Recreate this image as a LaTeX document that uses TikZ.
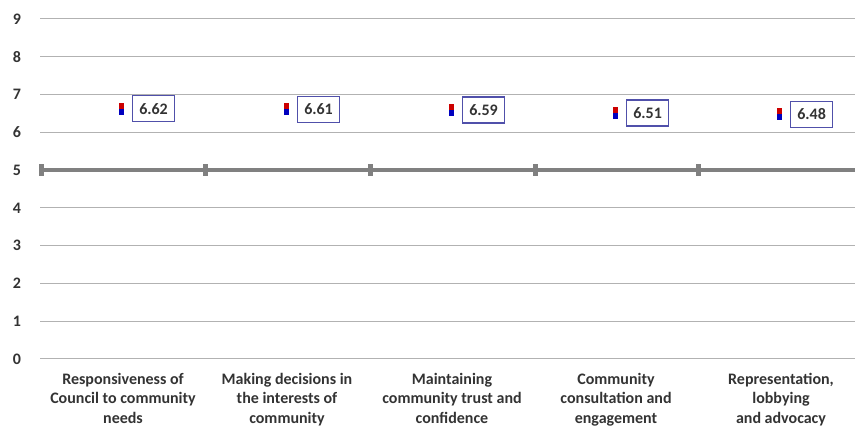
\documentclass[tikz,border=0pt]{standalone}
\usepackage{fontspec}
\setmainfont{Carlito}
\begin{document}
\begin{tikzpicture}[x=1pt,y=1pt,
  grid/.style={draw=black!30,line width=1pt},
  axislab/.style={font=\bfseries\fontsize{16}{18}\selectfont,text=black!80,anchor=center},
  catlab/.style={font=\bfseries\fontsize{16}{19.5}\selectfont,text=black!80,align=center,anchor=north,inner sep=0pt},
  valbox/.style={draw={rgb,255:red,80;green,80;blue,170},line width=1.1pt,minimum width=42pt,minimum height=26pt,inner sep=0pt,font=\bfseries\fontsize{16}{18}\selectfont,text=black!80,anchor=west},
  tickmk/.style={fill=black!50,minimum width=5pt,minimum height=12pt,inner sep=0pt}
]
\useasboundingbox (0,0) rectangle (855,430);
\def\ys{37.78}
% gridlines and axis labels
\foreach \v in {0,1,2,3,4,6,7,8,9}{
  \coordinate (gl\v) at (40,71+\v*\ys);
  \coordinate (gr\v) at (855,71+\v*\ys);
  \draw[grid] (gl\v) -- (gr\v);
}
\foreach \v in {0,...,9}{
  \node[axislab] (y\v) at (17,71+\v*\ys) {\v};
}
% thick line at 5
\coordinate (fl) at (40,71+5*\ys);
\coordinate (fr) at (855,71+5*\ys);
\draw[draw=black!50,line width=3.5pt] (fl) -- (fr);
\foreach \i/\x in {0/41,1/205,2/370,3/535,4/698}{
  \node[tickmk] (t\i) at (\x,71+5*\ys) {};
}
% markers and value boxes
\foreach \i/\x/\v/\t in {1/121/6.62/6.62,2/286/6.61/6.61,3/451/6.59/6.59,4/615/6.51/6.51,5/779/6.48/6.48}{
  \fill[red!80!black] (\x-2.5,71+\v*\ys-1) rectangle (\x+2.5,71+\v*\ys+6);
  \fill[blue!75!black] (\x-2.5,71+\v*\ys-6) rectangle (\x+2.5,71+\v*\ys);
  \node[valbox] (b\i) at (\x+11,71+\v*\ys) {\t};
}
% category labels
\node[catlab] (c1) at (123,57) {Responsiveness of\\Council to community\\needs};
\node[catlab] (c2) at (287,57) {Making decisions in\\the interests of\\community};
\node[catlab] (c3) at (452,57) {Maintaining\\community trust and\\confidence};
\node[catlab] (c4) at (616,57) {Community\\consultation and\\engagement};
\node[catlab] (c5) at (781,57) {Representation,\\lobbying\\and advocacy};
\end{tikzpicture}
\end{document}
